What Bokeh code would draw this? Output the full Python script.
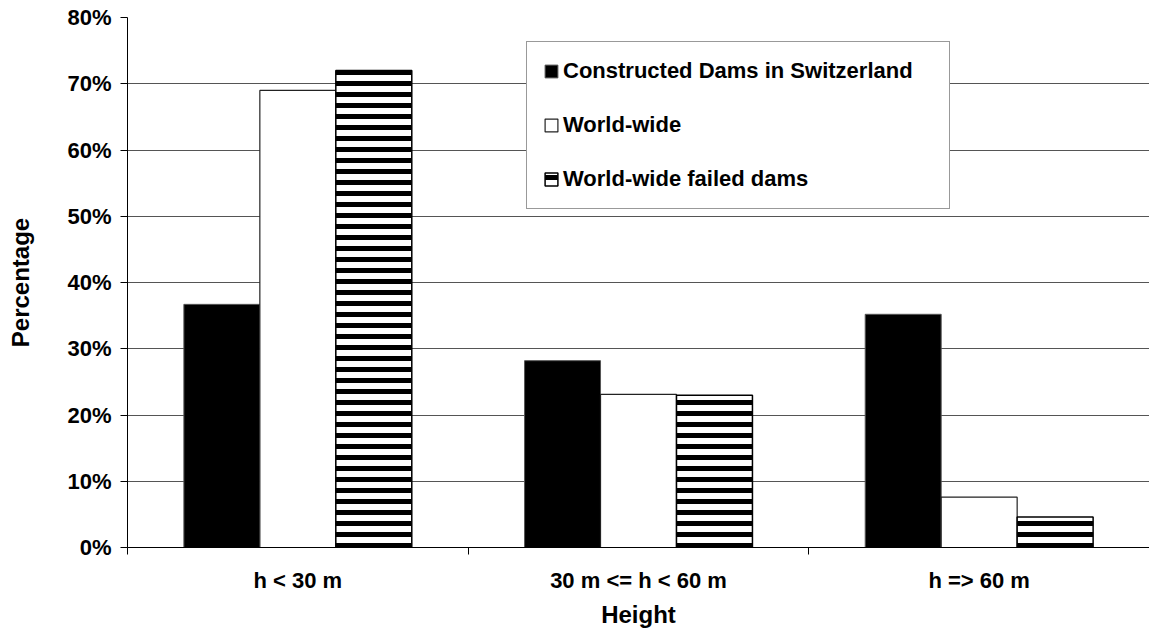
from bokeh.plotting import figure
from bokeh.models import (Range1d, FixedTicker, PrintfTickFormatter, Legend, LegendItem,
                          ColumnDataSource)
from bokeh.transform import dodge
from bokeh.embed import file_html
from bokeh.resources import INLINE

# ---- data ----
categories = ["h < 30 m", "30 m <= h < 60 m", "h => 60 m"]
swiss = [36.7, 28.2, 35.2]
world = [69.0, 23.1, 7.6]
failed = [72.0, 23.0, 4.6]
series_names = ["Constructed Dams in Switzerland", "World-wide", "World-wide failed dams"]
y_ticks = [0, 10, 20, 30, 40, 50, 60, 70, 80]

FONT = "Liberation Sans"

p = figure(width=1149, height=631, output_backend="svg", toolbar_location=None,
           x_range=Range1d(0, len(categories)), y_range=Range1d(0, 80),
           min_border_left=127, min_border_right=0, min_border_top=17, min_border_bottom=84)
p.outline_line_color = None
p.background_fill_color = "white"
p.border_fill_color = "white"

centers = [i + 0.5 for i in range(len(categories))]
bw = 0.223
offsets = [-bw, 0.0, bw]

src = ColumnDataSource(dict(x=centers, swiss=swiss, world=world, failed=failed))
r1 = p.vbar(x=dodge("x", offsets[0]), top="swiss", width=bw, source=src,
            fill_color="black", line_color="#555555", line_width=1)
r2 = p.vbar(x=dodge("x", offsets[1]), top="world", width=bw, source=src,
            fill_color="white", line_color="#222222", line_width=1.2)
r3 = p.vbar(x=dodge("x", offsets[2]), top="failed", width=bw, source=src,
            fill_color="white", line_color="black", line_width=1.5,
            hatch_pattern="horizontal_line", hatch_color="black",
            hatch_scale=11, hatch_weight=5)

# grid
p.xgrid.visible = False
p.ygrid.ticker = FixedTicker(ticks=y_ticks)
p.ygrid.grid_line_color = "#555555"
p.ygrid.grid_line_width = 1

# y axis
p.yaxis.ticker = FixedTicker(ticks=y_ticks)
p.yaxis.formatter = PrintfTickFormatter(format="%d%%")
p.yaxis.major_tick_out = 7
p.yaxis.major_tick_in = 0
p.yaxis.minor_tick_line_color = None
p.yaxis.major_label_standoff = 9
p.yaxis.major_label_text_font = FONT
p.yaxis.major_label_text_font_style = "bold"
p.yaxis.major_label_text_font_size = "22px"
p.yaxis.major_label_text_color = "black"
p.yaxis.axis_line_color = "black"
p.yaxis.major_tick_line_color = "black"
p.yaxis.axis_label = "Percentage"
p.yaxis.axis_label_standoff = 30
p.yaxis.axis_label_text_font = FONT
p.yaxis.axis_label_text_font_style = "bold"
p.yaxis.axis_label_text_font_size = "24px"
p.yaxis.axis_label_text_color = "black"

# x axis
p.xaxis.ticker = FixedTicker(ticks=centers, minor_ticks=list(range(len(categories) + 1)))
p.xaxis.major_label_overrides = {c: lab for c, lab in zip(centers, categories)}
p.xaxis.major_tick_out = 0
p.xaxis.major_tick_in = 0
p.xaxis.minor_tick_out = 7
p.xaxis.minor_tick_in = 0
p.xaxis.minor_tick_line_color = "black"
p.xaxis.major_label_standoff = 13
p.xaxis.major_label_text_font = FONT
p.xaxis.major_label_text_font_style = "bold"
p.xaxis.major_label_text_font_size = "22px"
p.xaxis.major_label_text_color = "black"
p.xaxis.axis_line_color = "black"
p.xaxis.axis_label = "Height"
p.xaxis.axis_label_standoff = 5
p.xaxis.axis_label_text_font = FONT
p.xaxis.axis_label_text_font_style = "bold"
p.xaxis.axis_label_text_font_size = "24px"
p.xaxis.axis_label_text_color = "black"

legend = Legend(items=[LegendItem(label=series_names[0], renderers=[r1]),
                       LegendItem(label=series_names[1], renderers=[r2]),
                       LegendItem(label=series_names[2], renderers=[r3])],
                location=(399, 338), orientation="vertical", padding=16, spacing=28,
                glyph_width=16, glyph_height=16, label_standoff=4, label_width=370,
                border_line_color="#333333", border_line_width=1,
                background_fill_color="white", background_fill_alpha=1.0,
                label_text_font=FONT, label_text_font_style="bold",
                label_text_font_size="22px", label_text_color="black", margin=0)
p.add_layout(legend)

open("out.html", "w").write(file_html(p, INLINE))
